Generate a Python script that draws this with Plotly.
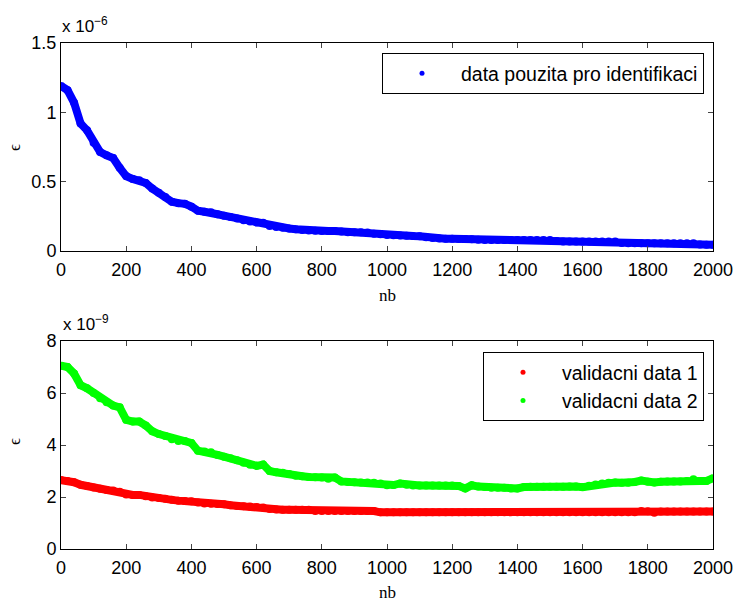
import plotly.graph_objects as go

# x positions (nb) at which values were read
nb = list(range(0, 2001, 20))

# top series, units of 1e-6
ident = [1.19, 1.16, 1.07, 0.92, 0.87, 0.78, 0.714, 0.69, 0.67, 0.60,
         0.54, 0.52, 0.51, 0.49, 0.45, 0.42, 0.39, 0.355, 0.345, 0.34,
         0.32, 0.29, 0.283, 0.28, 0.265, 0.255, 0.245, 0.235, 0.222, 0.212,
         0.205, 0.204, 0.18, 0.173, 0.168, 0.162, 0.157, 0.152, 0.148, 0.146,
         0.145, 0.144, 0.144, 0.14, 0.135, 0.135, 0.135, 0.133, 0.125, 0.12,
         0.116, 0.114, 0.112, 0.11, 0.108, 0.107, 0.1, 0.093, 0.09, 0.089,
         0.088, 0.087, 0.086, 0.084, 0.082, 0.08, 0.08, 0.08, 0.08, 0.08,
         0.08, 0.08, 0.08, 0.08, 0.08, 0.08, 0.072, 0.068, 0.068, 0.068,
         0.068, 0.068, 0.068, 0.068, 0.068, 0.068, 0.058, 0.055, 0.055, 0.055,
         0.055, 0.055, 0.055, 0.055, 0.055, 0.055, 0.055, 0.055, 0.046, 0.045,
         0.045]

# bottom series, units of 1e-9
valid1 = [2.65, 2.62, 2.57, 2.47, 2.42, 2.37, 2.32, 2.27, 2.25, 2.2,
          2.1, 2.08, 2.08, 2.03, 1.98, 1.96, 1.93, 1.89, 1.86, 1.85,
          1.84, 1.79, 1.75, 1.74, 1.73, 1.72, 1.68, 1.65, 1.64, 1.63,
          1.62, 1.6, 1.54, 1.52, 1.51, 1.51, 1.51, 1.51, 1.51, 1.46,
          1.46, 1.46, 1.46, 1.46, 1.46, 1.46, 1.46, 1.46, 1.46, 1.41,
          1.41, 1.41, 1.41, 1.41, 1.41, 1.41, 1.41, 1.41, 1.41, 1.41,
          1.41, 1.41, 1.41, 1.41, 1.41, 1.41, 1.41, 1.41, 1.41, 1.41,
          1.41, 1.41, 1.41, 1.41, 1.41, 1.41, 1.41, 1.41, 1.41, 1.41,
          1.41, 1.41, 1.41, 1.41, 1.41, 1.41, 1.41, 1.41, 1.41, 1.46,
          1.45, 1.39, 1.44, 1.44, 1.44, 1.44, 1.44, 1.44, 1.44, 1.44,
          1.44]

valid2 = [7.05, 7.0, 6.75, 6.3, 6.18, 6.0, 5.8, 5.64, 5.52, 5.45,
          4.97, 4.9, 4.9, 4.75, 4.53, 4.42, 4.35, 4.22, 4.15, 4.15,
          4.08, 3.78, 3.75, 3.72, 3.62, 3.55, 3.49, 3.41, 3.32, 3.24,
          3.2, 3.25, 3.0, 2.95, 2.93, 2.88, 2.82, 2.8, 2.77, 2.76,
          2.75, 2.7, 2.75, 2.6, 2.58, 2.57, 2.56, 2.56, 2.55, 2.52,
          2.45, 2.46, 2.52, 2.47, 2.44, 2.44, 2.44, 2.44, 2.44, 2.44,
          2.44, 2.42, 2.33, 2.45, 2.4, 2.38, 2.36, 2.36, 2.36, 2.33,
          2.33, 2.38, 2.39, 2.39, 2.39, 2.39, 2.39, 2.39, 2.40, 2.40,
          2.38, 2.43, 2.48, 2.52, 2.55, 2.56, 2.55, 2.55, 2.58, 2.63,
          2.59, 2.56, 2.59, 2.6, 2.6, 2.6, 2.62, 2.68, 2.62, 2.62,
          2.72]

x_ticks = list(range(0, 2001, 200))
top_ticks = [0, 0.5, 1, 1.5]
top_tick_text = ["0", "0.5", "1", "1.5"]
bot_ticks = [0, 2, 4, 6, 8]

W, H = 737, 598
L, R, T, B = 61, 713, 43, 549   # plot area in pixels
FONT = "Liberation Sans, Arial, Helvetica, sans-serif"
SERIF = "Liberation Serif, Times New Roman, serif"

series = [
    (ident, "data pouzita pro identifikaci", "#0000FF", "x", "y", "legend"),
    (valid1, "validacni data 1", "#FF0000", "x2", "y2", "legend2"),
    (valid2, "validacni data 2", "#00FF00", "x2", "y2", "legend2"),
]

fig = go.Figure()
for vals, name, col, xa, ya, lg in series:
    # thick body of densely packed dots
    fig.add_trace(go.Scatter(x=nb, y=vals, mode="lines+markers", showlegend=False,
                             line=dict(color=col, width=8),
                             marker=dict(color=col, size=8, line=dict(width=0)),
                             xaxis=xa, yaxis=ya, hoverinfo="skip"))
    # same points as small dots (carries the legend entry)
    fig.add_trace(go.Scatter(x=nb, y=vals, mode="markers", name=name,
                             marker=dict(color=col, size=5, line=dict(width=0)),
                             xaxis=xa, yaxis=ya, legend=lg))

def fx(p):   # pixel x -> paper x
    return (p - L) / (R - L)

def fy(p):   # pixel y -> paper y
    return (B - p) / (B - T)

axis_common = dict(showline=True, linecolor="black", linewidth=1, mirror="ticks",
                   ticks="inside", ticklen=5, tickcolor="#444", showgrid=False,
                   zeroline=False, automargin=False,
                   tickfont=dict(family=FONT, size=18, color="black"))

legend_common = dict(xanchor="right", yanchor="top", bgcolor="white",
                     bordercolor="black", borderwidth=1,
                     font=dict(family=FONT, size=19.5, color="black"),
                     itemsizing="trace", itemwidth=68, tracegroupgap=0)

fig.update_layout(
    width=W, height=H,
    paper_bgcolor="white", plot_bgcolor="white",
    margin=dict(l=L, r=W - R, t=T, b=H - B, autoexpand=False),
    font=dict(family=FONT, color="black"),
    xaxis=dict(domain=[0, 1], range=[0, 2000], tickvals=x_ticks, anchor="y",
               ticklabelstandoff=2, **axis_common),
    yaxis=dict(domain=[fy(251), 1], range=[0, 1.5], tickvals=top_ticks,
               ticktext=top_tick_text, anchor="x", **axis_common),
    xaxis2=dict(domain=[0, 1], range=[0, 2000], tickvals=x_ticks, anchor="y2",
                ticklabelstandoff=2, **axis_common),
    yaxis2=dict(domain=[0, fy(341)], range=[0, 8], tickvals=bot_ticks,
                anchor="x2", **axis_common),
    legend=dict(x=fx(704), y=fy(53), **legend_common),
    legend2=dict(x=fx(704), y=fy(352), **legend_common),
    showlegend=True,
)

annos = [
    dict(text="x 10<sup>−6</sup>", x=fx(60), y=fy(38)),
    dict(text="x 10<sup>−9</sup>", x=fx(61), y=fy(336)),
]
for a in annos:
    fig.add_annotation(xref="paper", yref="paper", showarrow=False,
                       xanchor="left", yanchor="bottom",
                       font=dict(family=FONT, size=17, color="black"), **a)

for ytxt in [148, 442]:
    fig.add_annotation(text="ϵ", xref="paper", yref="paper", x=fx(14), y=fy(ytxt),
                       xanchor="center", yanchor="middle",
                       showarrow=False, textangle=-90,
                       font=dict(family=SERIF, size=17, color="black"))
for ytxt in [295, 592]:
    fig.add_annotation(text="nb", xref="paper", yref="paper", x=fx(387), y=fy(ytxt),
                       xanchor="center", yanchor="middle",
                       showarrow=False, font=dict(family=SERIF, size=17, color="black"))

fig.write_html("out.html", config={"displayModeBar": False},
               post_script="document.body.style.margin='0';document.body.style.overflow='hidden';")
